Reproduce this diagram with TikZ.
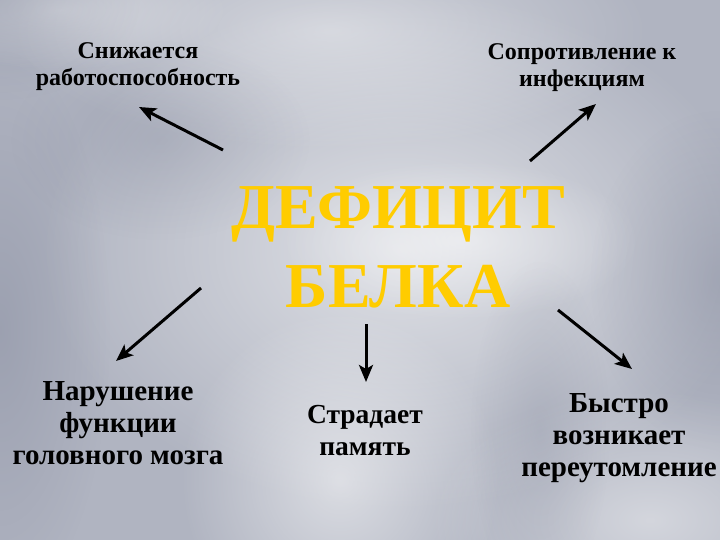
\documentclass[tikz,border=0pt]{standalone}
\usepackage{fontspec}
\setmainfont{Liberation Serif}
\usetikzlibrary{arrows.meta,fadings}
\definecolor{bgbase}{RGB}{176,180,193}
\definecolor{titlecol}{RGB}{255,204,0}
\definecolor{bgdark}{RGB}{110,116,138}
\tikzfading[name=soft, inner color=transparent!0, outer color=transparent!100]
\tikzset{
  lbl/.style={align=center, text=black, inner sep=0pt, anchor=base, font=\bfseries\fontsize{24}{27}\selectfont},
  lblbig/.style={align=center, text=black, inner sep=0pt, anchor=base, font=\bfseries\fontsize{29}{32}\selectfont},
  arr/.style={line width=3pt, -{Stealth[length=17pt,width=14pt,inset=4pt]}},
  lightblob/.style={fill=white, path fading=soft},
  darkblob/.style={fill=bgdark, path fading=soft}
}
\begin{document}
\begin{tikzpicture}[x=1pt,y=-1pt]
\useasboundingbox (0,0) rectangle (720,540);
% background
\fill[bgbase] (0,0) rectangle (720,540);
\begin{scope}
\clip (0,0) rectangle (720,540);
\fill[lightblob, fill opacity=0.6] (400,250) ellipse [x radius=360, y radius=260];
\fill[lightblob, fill opacity=0.45] (330,30) ellipse [x radius=320, y radius=120];
\fill[lightblob, fill opacity=0.55] (340,480) ellipse [x radius=160, y radius=170];
\fill[lightblob, fill opacity=0.45] (650,520) ellipse [x radius=220, y radius=130];
\fill[lightblob, fill opacity=0.35] (60,10) ellipse [x radius=170, y radius=60];
\fill[lightblob, fill opacity=0.5] (460,240) ellipse [x radius=180, y radius=80];
\fill[darkblob, fill opacity=0.3] (0,330) ellipse [x radius=110, y radius=280];
\fill[darkblob, fill opacity=0.28] (720,280) ellipse [x radius=130, y radius=170];
\fill[darkblob, fill opacity=0.2] (160,140) ellipse [x radius=150, y radius=100];
\fill[darkblob, fill opacity=0.2] (540,430) ellipse [x radius=70, y radius=170];
\fill[darkblob, fill opacity=0.22] (0,0) ellipse [x radius=140, y radius=100];
\end{scope}
% title
\node[align=center, inner sep=0pt, anchor=base, text=titlecol, font=\bfseries\fontsize{64}{79}\selectfont] (title) at (398,307) {ДЕФИЦИТ\\БЕЛКА};
% labels
\node[lbl] (work) at (138,86) {Снижается\\работоспособность};
\node[lbl] (resist) at (582,87) {Сопротивление к\\инфекциям};
\node[lblbig] (brain) at (118,464) {Нарушение\\функции\\головного мозга};
\node[lblbig, font=\bfseries\fontsize{27.5}{32}\selectfont] (memory) at (365,455) {Страдает\\память};
\node[lblbig] (tired) at (619,476) {Быстро\\возникает\\переутомление};
% arrow endpoints
\coordinate (a1s) at (223,150); \coordinate (a1e) at (139,107);
\coordinate (a2s) at (530,161); \coordinate (a2e) at (596,104);
\coordinate (a3s) at (201,288); \coordinate (a3e) at (116,361);
\coordinate (a4s) at (366,324); \coordinate (a4e) at (366,382);
\coordinate (a5s) at (558,310); \coordinate (a5e) at (632,369);
\draw[arr] (a1s) -- (a1e);
\draw[arr] (a2s) -- (a2e);
\draw[arr] (a3s) -- (a3e);
\draw[arr] (a4s) -- (a4e);
\draw[arr] (a5s) -- (a5e);
\end{tikzpicture}
\end{document}
